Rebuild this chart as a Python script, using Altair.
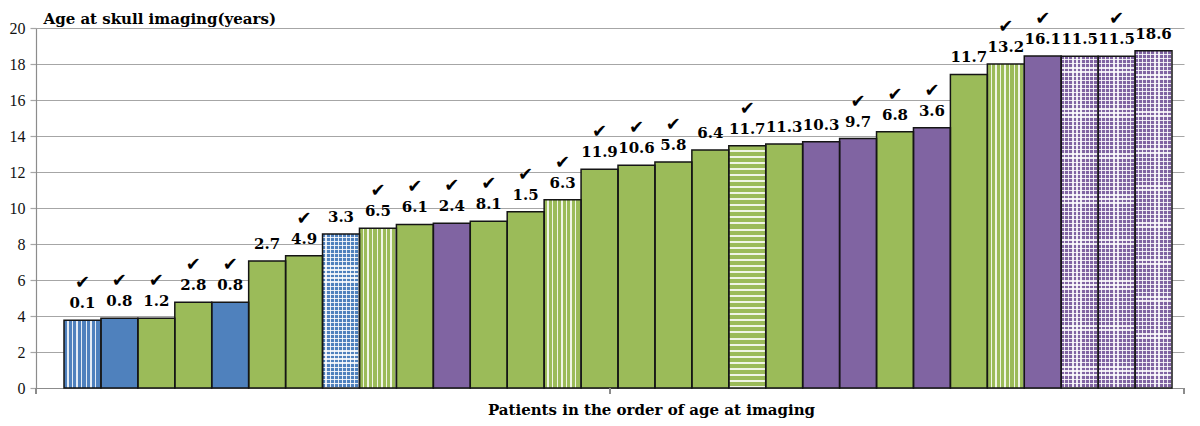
import altair as alt
import pandas as pd

patients = list(range(1, 31))
ages = [3.76, 3.87, 3.87, 4.77, 4.77, 7.06, 7.35, 8.55, 8.88, 9.09,
        9.15, 9.27, 9.79, 10.46, 12.15, 12.37, 12.55, 13.22, 13.46, 13.55,
        13.68, 13.86, 14.24, 14.46, 17.42, 18.0, 18.44, 18.43, 18.43, 18.73]
labels = ["0.1", "0.8", "1.2", "2.8", "0.8", "2.7", "4.9", "3.3", "6.5", "6.1",
          "2.4", "8.1", "1.5", "6.3", "11.9", "10.6", "5.8", "6.4", "11.7", "11.3",
          "10.3", "9.7", "6.8", "3.6", "11.7", "13.2", "16.1", "11.5", "11.5", "18.6"]
groups = ["blue", "blue", "green", "green", "blue", "green", "green", "blue", "green", "green",
          "purple", "green", "green", "green", "green", "green", "green", "green", "green", "green",
          "purple", "purple", "green", "purple", "green", "green", "purple", "purple", "purple", "purple"]
patterns = ["vstripe", "solid", "solid", "solid", "solid", "solid", "solid", "grid", "vstripe", "solid",
            "solid", "solid", "solid", "vstripe", "solid", "solid", "solid", "solid", "hstripe", "solid",
            "solid", "solid", "solid", "solid", "solid", "vstripe", "solid", "grid", "grid", "grid"]
checked = [1, 1, 1, 1, 1, 0, 1, 0, 1, 1,
           1, 1, 1, 1, 1, 1, 1, 0, 1, 0,
           0, 1, 1, 1, 0, 1, 1, 0, 1, 0]

group_domain = ["blue", "green", "purple"]
group_colors = ["#4F81BD", "#9BBB59", "#8064A2"]

df = pd.DataFrame({"patient": patients, "age": ages, "label": labels,
                   "group": groups, "pattern": patterns, "checked": checked})

W, H = 1148, 360
SERIF = "DejaVu Serif"
GRID = "#a6a6a6"

x_enc = alt.X("patient:O",
              scale=alt.Scale(paddingInner=0, paddingOuter=0.5416, align=0.7),
              axis=alt.Axis(labels=False, ticks=False, domain=True, domainColor="#8c8c8c",
                            domainWidth=1.2, grid=False,
                            title="Patients in the order of age at imaging",
                            titleFont=SERIF, titleFontSize=15, titleFontWeight="bold",
                            titleColor="#000000", titleX=615, titleY=26,
                            titleAlign="center", titleBaseline="alphabetic"))
y_enc = alt.Y("age:Q",
              scale=alt.Scale(domain=[0, 20], nice=False, zero=True),
              axis=alt.Axis(values=list(range(0, 21, 2)), grid=True, gridColor=GRID,
                            gridWidth=1.2, tickSize=6, tickColor=GRID, tickWidth=1.2,
                            domainColor="#8c8c8c", domainWidth=1.2,
                            labelFont="Liberation Serif", labelFontSize=16,
                            labelColor="#111111", labelPadding=5,
                            title="Age at skull imaging(years)", titleAngle=0,
                            titleAlign="left", titleBaseline="alphabetic",
                            titleX=7, titleY=-5, titleFont=SERIF, titleFontSize=15,
                            titleFontWeight="bold", titleColor="#000000"))


def stripes(n, frac, vertical_lines, white="rgba(255,255,255,0.85)"):
    clear = "rgba(255,255,255,0)"
    stops = []
    for k in range(n):
        a = round(k / n, 5)
        m = round((k + 1 - frac) / n, 5)
        b = round((k + 1) / n, 5)
        stops += [{"offset": a, "color": clear}, {"offset": m, "color": clear},
                  {"offset": m, "color": white}, {"offset": b, "color": white}]
    if vertical_lines:
        return {"gradient": "linear", "x1": 0, "x2": 1, "y1": 0, "y2": 0, "stops": stops}
    return {"gradient": "linear", "x1": 0, "x2": 0, "y1": 0, "y2": 1, "stops": stops}


base = alt.Chart(df).mark_bar(strokeWidth=0).encode(
    x=x_enc, y=y_enc,
    color=alt.Color("group:N", scale=alt.Scale(domain=group_domain, range=group_colors), legend=None))

layers = [base]

# vertical stripe overlays
layers.append(alt.Chart(df).transform_filter(alt.datum.pattern == "vstripe")
              .mark_bar(fill=stripes(8, 0.3, True), strokeWidth=0).encode(x=x_enc, y=y_enc))
layers.append(alt.Chart(df).transform_filter(alt.datum.pattern == "grid")
              .mark_bar(fill=stripes(9, 0.3, True), strokeWidth=0).encode(x=x_enc, y=y_enc))

# horizontal stripe overlays (one per bar, period depends on bar height)
px_per_unit = H / 20.0
for i, (p, a) in enumerate(zip(patterns, ages)):
    if p in ("hstripe", "grid"):
        period = 6.0 if p == "hstripe" else 4.1
        frac = 0.33 if p == "hstripe" else 0.3
        n = max(1, round(a * px_per_unit / period))
        layers.append(alt.Chart(df).transform_filter(alt.datum.patient == patients[i])
                      .mark_bar(fill=stripes(n, frac, False), strokeWidth=0)
                      .encode(x=x_enc, y=y_enc))

# outlines
layers.append(alt.Chart(df).mark_bar(fillOpacity=0, stroke="#151515", strokeWidth=1.5)
              .encode(x=x_enc, y=y_enc))

# value labels
layers.append(alt.Chart(df).mark_text(font=SERIF, fontSize=15, fontWeight="bold", color="#000000",
                                      dy=-17, baseline="middle")
              .encode(x=x_enc, y=y_enc, text="label:N"))
# check marks
layers.append(alt.Chart(df).transform_filter(alt.datum.checked == 1)
              .mark_text(text="\u2714", font="DejaVu Sans", fontSize=18, color="#000000",
                         dy=-37, baseline="middle")
              .encode(x=x_enc, y=y_enc))

# small category-axis ticks
for xv in (0, W / 2, W):
    layers.append(alt.Chart(df).mark_rule(color="#8c8c8c", strokeWidth=1.2)
                  .encode(x=alt.value(xv), y=alt.value(H), y2=alt.value(H + 6)))

chart = alt.layer(*layers).properties(
    width=W, height=H,
    autosize=alt.AutoSizeParams(type="none"),
    padding={"left": 28, "top": 20, "right": 8, "bottom": 30},
).configure_view(stroke=None)

chart.save("out.html", embed_options={"renderer": "svg", "actions": False})
